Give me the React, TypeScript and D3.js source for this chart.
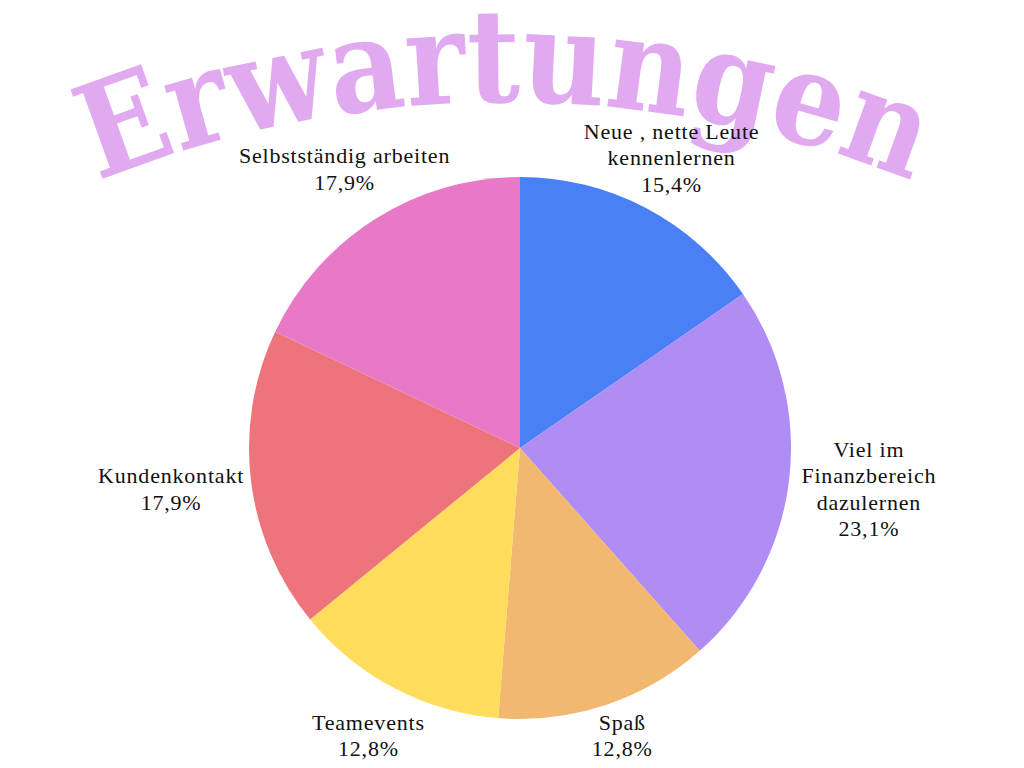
import * as d3 from 'd3';

const labels = [
  ['Neue , nette Leute', 'kennenlernen'],
  ['Viel im', 'Finanzbereich', 'dazulernen'],
  ['Spaß'],
  ['Teamevents'],
  ['Kundenkontakt'],
  ['Selbstständig arbeiten'],
];
const counts = [6, 9, 5, 5, 7, 7];
const colors = ['#4a80f6', '#af8df4', '#f2b86f', '#ffdd5c', '#ee747b', '#e779c6'];
const title = 'Erwartungen';

const width = 1024;
const height = 768;

export default function App() {
  const cx = 520;
  const cy = 448;
  const radius = 271;
  const total = d3.sum(counts);

  const pie = d3.pie<number>().sort(null).value(d => d)(counts);
  const arc = d3.arc<d3.PieArcDatum<number>>().innerRadius(0).outerRadius(radius);

  // labels sit on an ellipse around the pie
  const rx = radius + 81;
  const ry = radius + 49;
  const lineH = 26.5;

  // arched title baseline
  const tR = 1085;
  const tCx = 505;
  const tCy = 102 + tR;
  const a0 = -0.6;
  const a1 = 0.6;
  const titlePath = `M${tCx + tR * Math.sin(a0)},${tCy - tR * Math.cos(a0)} A${tR},${tR} 0 0 1 ${tCx + tR * Math.sin(a1)},${tCy - tR * Math.cos(a1)}`;

  return (
    <svg width={width} height={height} style={{ position: 'absolute', left: 0, top: 0, background: '#fff' }}>
      <defs>
        <path id="title-arc" d={titlePath} />
      </defs>
      <text
        fill="#e1aaf0"
        fontFamily="'DejaVu Serif Condensed', 'DejaVu Serif', serif"
        fontWeight="bold"
        fontSize={130}
      >
        <textPath href="#title-arc" startOffset="50%" textAnchor="middle" textLength={835} lengthAdjust="spacingAndGlyphs">
          {title}
        </textPath>
      </text>

      <g transform={`translate(${cx},${cy})`}>
        {pie.map((d, i) => (
          <path key={i} d={arc(d) || ''} fill={colors[i]} />
        ))}
      </g>

      {pie.map((d, i) => {
        const mid = (d.startAngle + d.endAngle) / 2;
        const s = Math.sin(mid);
        const c = Math.cos(mid);
        const r = 1 / Math.sqrt((s / rx) ** 2 + (c / ry) ** 2);
        const x = cx + r * s;
        const y = cy - r * c;
        const pct = ((counts[i] / total) * 100).toFixed(1).replace('.', ',') + '%';
        const lines = [...labels[i], pct];
        let y0 = y - ((lines.length - 1) * lineH) / 2 + 6;
        // keep the block inside the page
        const last = y0 + (lines.length - 1) * lineH;
        if (last > height - 12) y0 -= last - (height - 12);
        return (
          <text
            key={i}
            x={x}
            y={y0}
            textAnchor="middle"
            fontFamily="'Liberation Serif', serif"
            fontSize={22}
            letterSpacing={0.8}
            fill="#111"
          >
            {lines.map((l, j) => (
              <tspan key={j} x={x} y={y0 + j * lineH}>
                {l}
              </tspan>
            ))}
          </text>
        );
      })}
    </svg>
  );
}
